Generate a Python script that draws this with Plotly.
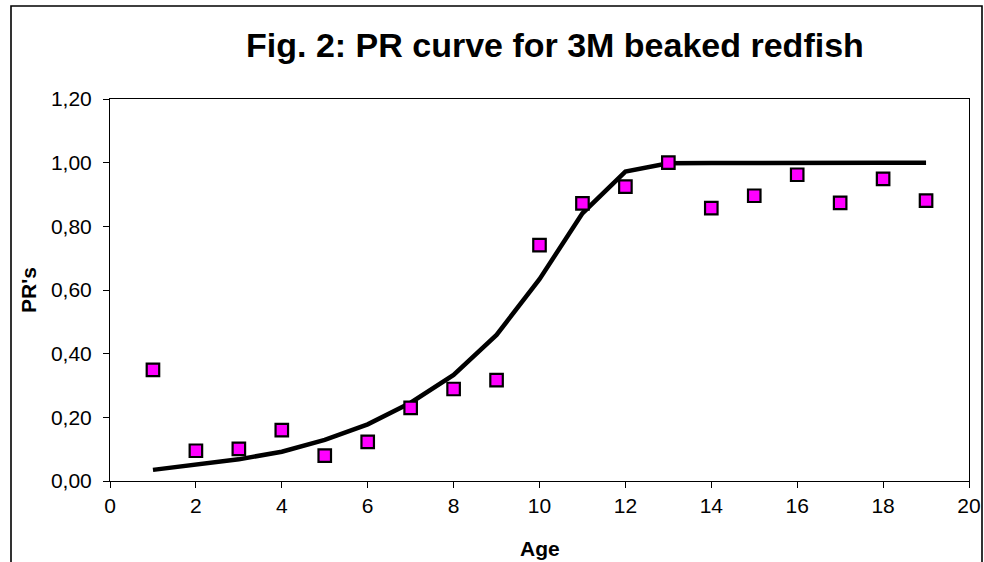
import plotly.graph_objects as go

age = list(range(1, 20))
observed_pr = [0.349, 0.095, 0.101, 0.160, 0.080, 0.123, 0.230, 0.289, 0.317, 0.741,
               0.872, 0.925, 1.000, 0.857, 0.896, 0.962, 0.874, 0.949, 0.881]
fitted_pr = [0.035, 0.050, 0.068, 0.092, 0.129, 0.178, 0.246, 0.333, 0.459, 0.634,
             0.841, 0.972, 0.998, 0.999, 1.000, 1.000, 1.000, 1.000, 1.000]

x_ticks = list(range(0, 21, 2))
y_ticks = [0, 0.2, 0.4, 0.6, 0.8, 1.0, 1.2]

FONT = "Liberation Sans, Arial, sans-serif"

fig = go.Figure()
fig.add_trace(go.Scatter(
    x=age, y=fitted_pr, mode="lines",
    line=dict(color="black", width=4.5),
    showlegend=False, cliponaxis=False,
))
fig.add_trace(go.Scatter(
    x=age, y=observed_pr, mode="markers",
    marker=dict(symbol="square", size=12.5, color="#FF00FF",
                line=dict(color="black", width=2.2)),
    showlegend=False, cliponaxis=False,
))

W, H = 984, 562
L, R, T, B = 110, 969, 99, 481
pw, ph = R - L, B - T

def px(xp):
    return (xp - L) / pw

def py(yp):
    return (B - yp) / ph

fig.add_shape(type="rect", xref="paper", yref="paper",
              x0=px(11), x1=px(982), y0=py(580), y1=py(6),
              line=dict(color="black", width=1.6), fillcolor="rgba(0,0,0,0)",
              layer="below")

fig.add_annotation(text="<b>Fig. 2: PR curve for 3M beaked redfish</b>",
                   xref="paper", yref="paper", x=px(555), y=py(45),
                   xanchor="center", yanchor="middle", showarrow=False,
                   font=dict(family=FONT, size=34, color="black"))
fig.add_annotation(text="<b>Age</b>",
                   xref="paper", yref="paper", x=px(539.5), y=py(548),
                   xanchor="center", yanchor="middle", showarrow=False,
                   font=dict(family=FONT, size=21, color="black"))
fig.add_annotation(text="<b>PR's</b>", textangle=-90,
                   xref="paper", yref="paper", x=px(28), y=py(290),
                   xanchor="center", yanchor="middle", showarrow=False,
                   font=dict(family=FONT, size=21, color="black"))

fig.update_layout(
    width=W, height=H,
    margin=dict(l=L, r=W - R, t=T, b=H - B, pad=0, autoexpand=False),
    paper_bgcolor="white", plot_bgcolor="white",
    separators=", ",
    font=dict(family=FONT, size=21, color="black"),
    xaxis=dict(range=[0, 20], tickmode="array", tickvals=x_ticks,
               showgrid=False, zeroline=False, automargin=False,
               showline=True, linecolor="black", linewidth=1, mirror=True,
               ticks="outside", ticklen=6, tickwidth=1, tickcolor="black",
               tickfont=dict(size=21)),
    yaxis=dict(range=[0, 1.2], tickmode="array", tickvals=y_ticks,
               tickformat=".2f", automargin=False, ticklabelstandoff=7,
               showgrid=False, zeroline=False,
               showline=True, linecolor="black", linewidth=1, mirror=True,
               ticks="outside", ticklen=6, tickwidth=1, tickcolor="black",
               tickfont=dict(size=21)),
)

fig.write_html("out.html")
